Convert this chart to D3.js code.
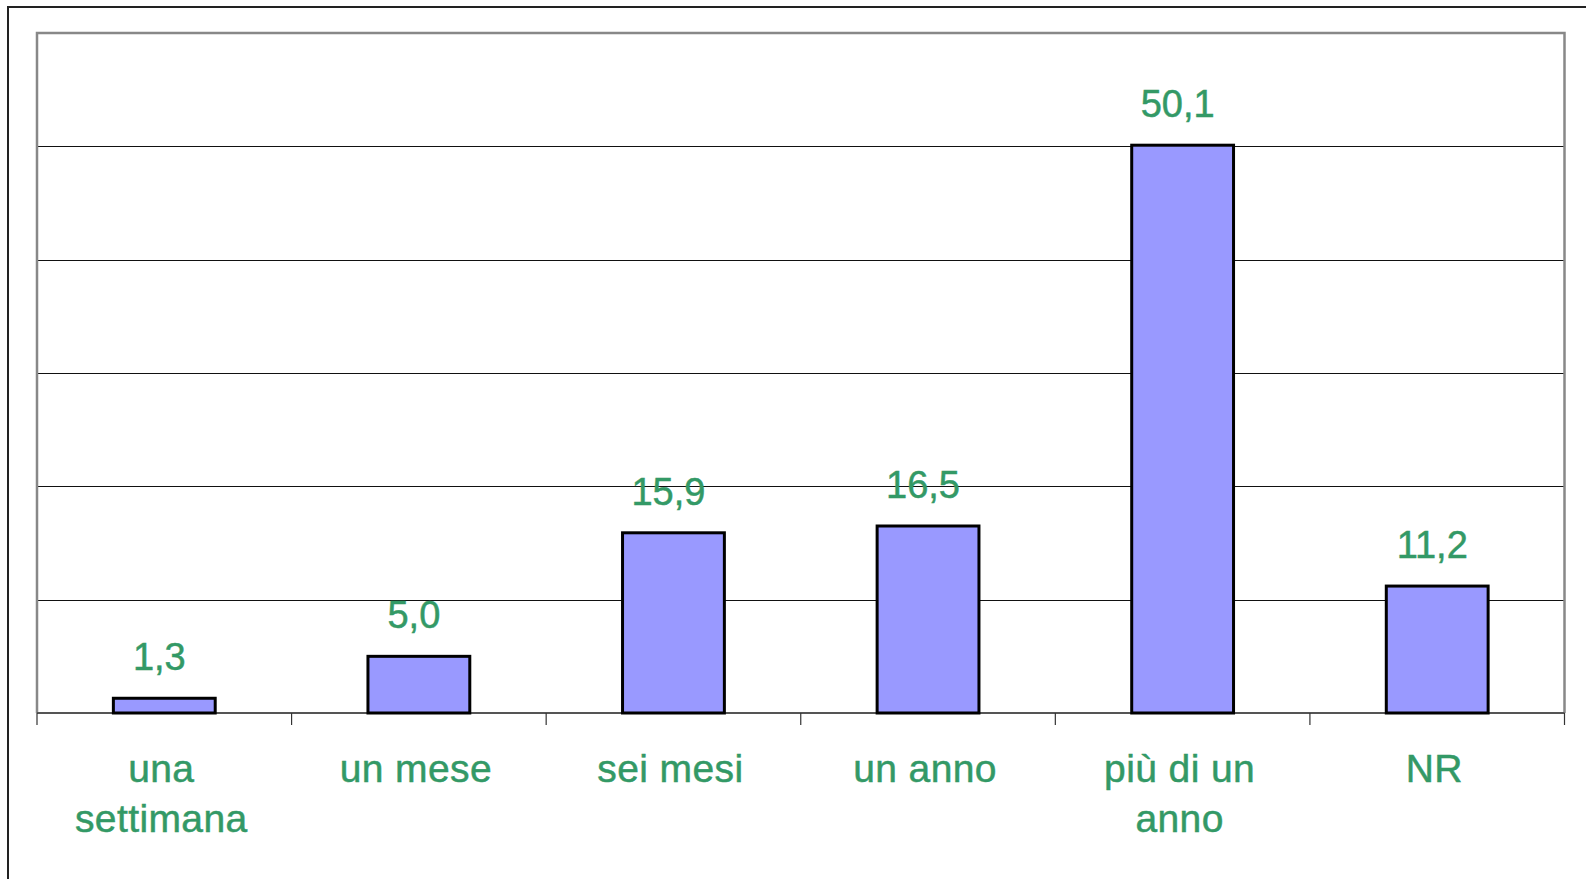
<!DOCTYPE html>
<html>
<head>
<meta charset="utf-8">
<script src="https://cdn.jsdelivr.net/npm/d3@7"></script>
<style>
  html, body { margin: 0; padding: 0; background: #fff; }
  svg { display: block; }
</style>
</head>
<body>
<svg id="chart" width="1586" height="879"></svg>
<script>
// Categories (each entry is a list of label lines) and their percentages
const categories = ["una settimana", "un mese", "sei mesi", "un anno", "più di un anno", "NR"];
const categoryLines = [["una", "settimana"], ["un mese"], ["sei mesi"], ["un anno"], ["più di un", "anno"], ["NR"]];
const values = [1.3, 5.0, 15.9, 16.5, 50.1, 11.2];
const valueLabels = ["1,3", "5,0", "15,9", "16,5", "50,1", "11,2"];
const gridTicks = [10, 20, 30, 40, 50];
const yMax = 60;

const svg = d3.select("#chart");
const plot = { left: 37, right: 1564.5, top: 33, bottom: 713 };
const green = "#339966";
const font = "'Liberation Sans', Arial, sans-serif";

const x = d3.scaleBand()
  .domain(categories)
  .range([plot.left, plot.right])
  .paddingInner(0.6)
  .paddingOuter(0.3);

const y = d3.scaleLinear()
  .domain([0, yMax])
  .range([plot.bottom, plot.top]);

// Outer frame (left and top edges)
svg.append("path")
  .attr("d", `M8,879 V7 H1586`)
  .attr("fill", "none")
  .attr("stroke", "#222")
  .attr("stroke-width", 2);

// Horizontal gridlines
svg.append("g")
  .attr("transform", `translate(${plot.left},0)`)
  .call(d3.axisLeft(y).tickValues(gridTicks).tickSize(-(plot.right - plot.left)).tickFormat(""))
  .call(g => g.select(".domain").remove())
  .call(g => g.selectAll(".tick").attr("transform", d => `translate(0,${Math.round(y(d)) + 0.5})`))
  .call(g => g.selectAll(".tick line").attr("stroke", "#111").attr("stroke-width", 1));

// Plot frame: top, left and right edges in grey
svg.append("path")
  .attr("d", `M${plot.left},${plot.bottom} V${y(yMax)} H${plot.right} V${plot.bottom}`)
  .attr("fill", "none")
  .attr("stroke", "#888")
  .attr("stroke-width", 2.5);

// Category axis: baseline with ticks at the category boundaries
const step = x.step();
const boundaries = d3.range(categories.length + 1).map(i => plot.left + i * step);
const axisG = svg.append("g");
axisG.append("line")
  .attr("x1", plot.left).attr("x2", plot.right)
  .attr("y1", y(0)).attr("y2", y(0))
  .attr("stroke", "#555").attr("stroke-width", 2);
axisG.selectAll("line.tick")
  .data(boundaries)
  .join("line")
  .attr("class", "tick")
  .attr("x1", d => d).attr("x2", d => d)
  .attr("y1", y(0)).attr("y2", y(0) + 12)
  .attr("stroke", "#333").attr("stroke-width", 1.2);

// Bars
svg.append("g")
  .selectAll("rect")
  .data(values)
  .join("rect")
  .attr("x", (d, i) => x(categories[i]))
  .attr("y", d => y(d))
  .attr("width", x.bandwidth())
  .attr("height", d => y(0) - y(d))
  .attr("fill", "#9999FF")
  .attr("stroke", "#000")
  .attr("stroke-width", 3);

// Value labels above bars
svg.append("g")
  .selectAll("text")
  .data(values)
  .join("text")
  .attr("x", (d, i) => x(categories[i]) + x.bandwidth() / 2 - 5)
  .attr("y", d => y(d) - 28)
  .attr("text-anchor", "middle")
  .attr("font-family", font)
  .attr("font-size", 38)
  .attr("fill", green)
  .attr("stroke", green)
  .attr("stroke-width", 0.5)
  .text((d, i) => valueLabels[i]);

// Category labels
const catG = svg.append("g");
categories.forEach((c, i) => {
  const cx = x(c) + x.bandwidth() / 2 - 3;
  const t = catG.append("text")
    .attr("x", cx)
    .attr("y", 782)
    .attr("text-anchor", "middle")
    .attr("font-family", font)
    .attr("font-size", 39)
    .attr("letter-spacing", 0.4)
    .attr("fill", green)
    .attr("stroke", green)
    .attr("stroke-width", 0.5);
  categoryLines[i].forEach((line, j) => {
    t.append("tspan")
      .attr("x", cx)
      .attr("dy", j === 0 ? 0 : 50)
      .text(line);
  });
});
</script>
</body>
</html>
